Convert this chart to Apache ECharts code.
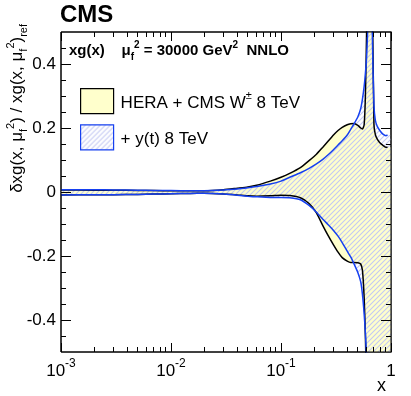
<!DOCTYPE html>
<html lang="en">
<head>
<meta charset="UTF-8">
<title>CMS xg(x) uncertainty</title>
<script src="https://cdn.jsdelivr.net/npm/echarts@6/dist/echarts.min.js"></script>
<style>html,body{margin:0;padding:0;background:#fff}</style>
</head>
<body>
<div id="chart" style="width:411px;height:396px;"></div>
<script>
// x grid shared by both bands
var xVals = [0.001, 0.002, 0.003, 0.005, 0.007, 0.01, 0.015, 0.02, 0.03, 0.04,
	0.05, 0.06, 0.08, 0.1, 0.12, 0.15, 0.18, 0.21, 0.24, 0.27,
	0.3, 0.33, 0.36, 0.4, 0.43, 0.46, 0.5, 0.53, 0.55, 0.57,
	0.585, 0.6, 0.62, 0.65, 0.68, 0.7, 0.72, 0.75, 0.8, 0.85,
	0.9, 0.93, 1.0];

// HERA + CMS W 8 TeV (black band)
var heraUp = [0.006, 0.0058, 0.0055, 0.005, 0.0045, 0.004, 0.004, 0.004, 0.007, 0.012,
	0.016, 0.021, 0.034, 0.046, 0.058, 0.076, 0.098, 0.118, 0.14, 0.16,
	0.178, 0.192, 0.202, 0.21, 0.213, 0.214, 0.208, 0.2, 0.197, 0.21,
	0.3, 0.5, 0.9, 0.9, 0.55, 0.21, 0.18, 0.165, 0.152, 0.145,
	0.14, 0.14, 0.14];
var heraDown = [-0.009, -0.0088, -0.0085, -0.0075, -0.0065, -0.0055, -0.0045, -0.004, -0.006, -0.009,
	-0.012, -0.013, -0.012, -0.01, -0.011, -0.018, -0.036, -0.065, -0.105, -0.138,
	-0.165, -0.188, -0.205, -0.216, -0.22, -0.22, -0.221, -0.225, -0.245, -0.33,
	-0.45, -0.62, -0.9, -0.9, -0.9, -0.9, -0.9, -0.9, -0.9, -0.9,
	-0.9, -0.9, -0.9];

// + y(t) 8 TeV (blue hatched band)
var ytUp = [0.007, 0.0068, 0.0065, 0.0055, 0.005, 0.0045, 0.004, 0.004, 0.006, 0.009,
	0.013, 0.017, 0.025, 0.034, 0.046, 0.06, 0.074, 0.088, 0.102, 0.117,
	0.132, 0.147, 0.16, 0.178, 0.196, 0.212, 0.235, 0.26, 0.29, 0.33,
	0.37, 0.42, 0.55, 0.9, 0.45, 0.27, 0.225, 0.205, 0.19, 0.18,
	0.176, 0.178, 0.178];
var ytDown = [-0.009, -0.0088, -0.0085, -0.0075, -0.0065, -0.0055, -0.0045, -0.004, -0.006, -0.01,
	-0.013, -0.015, -0.017, -0.017, -0.018, -0.024, -0.042, -0.063, -0.085, -0.103,
	-0.12, -0.138, -0.158, -0.185, -0.203, -0.224, -0.252, -0.28, -0.32, -0.38,
	-0.44, -0.52, -0.7, -0.9, -0.9, -0.9, -0.9, -0.9, -0.9, -0.9,
	-0.9, -0.9, -0.9];

var legendNames = ['HERA + CMS W\u00b1 8 TeV', '+ y(t) 8 TeV'];

var xMajor = [0.001, 0.01, 0.1, 1];
var xMinor = [0.002, 0.003, 0.004, 0.005, 0.006, 0.007, 0.008, 0.009,
	0.02, 0.03, 0.04, 0.05, 0.06, 0.07, 0.08, 0.09,
	0.2, 0.3, 0.4, 0.5, 0.6, 0.7, 0.8, 0.9];
var yMajor = [-0.4, -0.2, 0, 0.2, 0.4];
var yMinor = [-0.45, -0.35, -0.3, -0.25, -0.15, -0.1, -0.05,
	0.05, 0.1, 0.15, 0.25, 0.3, 0.35, 0.45];

var FONT = 'Liberation Sans';
var yellow = '#ffffcc';
var blue = '#1640f0';

function hatch() {
	var c = document.createElement('canvas');
	c.width = 5; c.height = 5;
	var g = c.getContext('2d');
	g.strokeStyle = '#c4c9f2';
	g.lineWidth = 1.1;
	g.beginPath();
	g.moveTo(0, 5); g.lineTo(5, 0);
	g.moveTo(-1, 1); g.lineTo(1, -1);
	g.moveTo(4, 6); g.lineTo(6, 4);
	g.stroke();
	return c;
}
var hatchFill = {image: hatch(), repeat: 'repeat'};

function snap(v) { return Math.floor(v) + 0.5; }

function band(name, up, down, fill, z) {
	return {
		type: 'custom',
		name: name,
		clip: true,
		z: z,
		silent: true,
		data: xVals.map(function (x, i) { return [x, down[i], up[i]]; }),
		encode: {x: 0, y: [1, 2]},
		renderItem: function (params, api) {
			if (params.dataIndex !== 0) return null;
			var pts = [];
			for (var i = 0; i < xVals.length; i++) pts.push(api.coord([xVals[i], up[i]]));
			for (var j = xVals.length - 1; j >= 0; j--) pts.push(api.coord([xVals[j], down[j]]));
			return {type: 'polygon', shape: {points: pts}, style: {fill: fill, stroke: null}};
		}
	};
}

function edge(arr, color, z) {
	return {
		type: 'line',
		data: xVals.slice(0, -1).map(function (x, i) { return [x, arr[i]]; }),
		showSymbol: false,
		smooth: 0.2,
		z: z,
		silent: true,
		lineStyle: {color: color, width: 1.5}
	};
}

function tickList(major, minor, lMajor, lMinor) {
	return major.map(function (v) { return [v, lMajor]; })
		.concat(minor.map(function (v) { return [v, lMinor]; }))
		.sort(function (a, b) { return a[0] - b[0]; });
}
var xTicks = tickList(xMajor, xMinor, 9, 5);
var yTicks = tickList(yMajor, yMinor, 10, 5);

// ROOT style frame ticks: one polyline per side running along the frame edge
var tickSeries = {
	type: 'custom',
	silent: true,
	z: 10,
	data: [[0.001, 0]],
	encode: {x: 0, y: 1},
	renderItem: function (params, api) {
		var r = params.coordSys;
		var L = r.x, R = r.x + r.width, T = r.y, B = r.y + r.height;
		var bottom = [[L, B]], top = [[L, T]], left = [[L, B]], right = [[R, B]];
		xTicks.forEach(function (t) {
			var px = snap(api.coord([t[0], 0])[0]);
			bottom.push([px, B], [px, B - t[1]], [px, B]);
			top.push([px, T], [px, T + t[1]], [px, T]);
		});
		yTicks.forEach(function (t) {
			var py = snap(api.coord([0.001, t[0]])[1]);
			left.push([L, py], [L + t[1], py], [L, py]);
			right.push([R, py], [R - t[1], py], [R, py]);
		});
		bottom.push([R, B]); top.push([R, T]); left.push([L, T]); right.push([R, T]);
		var st = function () { return {stroke: '#000', lineWidth: 1, fill: null}; };
		return {
			type: 'group',
			children: [bottom, top, left, right].map(function (pts) {
				return {type: 'polyline', shape: {points: pts}, style: st()};
			})
		};
	}
};

var option = {
	animation: false,
	grid: {left: 61, right: 20, top: 32, bottom: 44, show: true, borderColor: '#000', borderWidth: 1, backgroundColor: 'transparent'},
	title: {
		text: 'CMS', left: 60, top: 3, padding: 0,
		textStyle: {fontFamily: FONT, fontSize: 24, fontWeight: 'bold', color: '#000'}
	},
	legend: {
		orient: 'vertical', left: 80, top: 88, padding: 0,
		itemWidth: 33, itemHeight: 25, itemGap: 10, icon: 'rect',
		selectedMode: false,
		data: [
			{name: legendNames[0], itemStyle: {color: yellow, borderColor: '#000', borderWidth: 1.2}},
			{name: legendNames[1], itemStyle: {color: hatchFill, borderColor: blue, borderWidth: 1.2}}
		],
		formatter: function (n) {
			return n === legendNames[0] ? '{t|HERA + CMS W}{s|\u00b1}{t| 8 TeV}' : '{t|' + n + '}';
		},
		textStyle: {
			color: '#000', padding: [0, 0, 0, 2],
			rich: {
				t: {fontFamily: FONT, fontSize: 17, lineHeight: 22, verticalAlign: 'bottom', color: '#000'},
				s: {fontFamily: FONT, fontSize: 11, lineHeight: 14, verticalAlign: 'top', color: '#000'}
			}
		}
	},
	graphic: [
		{
			type: 'text', left: 69, top: 40, z: 100,
			style: {
				text: '{b|xg(x)}{b|    \u03bc}{d|f}{u|2}{b| = 30000 GeV}{u|2}{b|  NNLO}',
				rich: {
					b: {fontFamily: FONT, fontSize: 15, fontWeight: 'bold', lineHeight: 22, verticalAlign: 'middle', fill: '#000'},
					u: {fontFamily: FONT, fontSize: 10, fontWeight: 'bold', lineHeight: 13, verticalAlign: 'top', fill: '#000'},
					d: {fontFamily: FONT, fontSize: 10, fontWeight: 'bold', lineHeight: 10, verticalAlign: 'bottom', fill: '#000'}
				}
			}
		},
		{
			type: 'text', x: 17, y: 24, rotation: Math.PI / 2, z: 100,
			style: {
				text: '{a|\u03b4xg(x, \u03bc}{d|f}{u|2}{a|) / xg(x, \u03bc}{d|f}{u|2}{a|)}{d|ref}',
				align: 'right', verticalAlign: 'middle',
				rich: {
					a: {fontFamily: FONT, fontSize: 17, lineHeight: 24, verticalAlign: 'middle', fill: '#000'},
					u: {fontFamily: FONT, fontSize: 11, lineHeight: 13, verticalAlign: 'top', fill: '#000'},
					d: {fontFamily: FONT, fontSize: 11, lineHeight: 11, verticalAlign: 'bottom', fill: '#000'}
				}
			}
		},
		{
			type: 'text', x: 377, y: 386, z: 100,
			style: {text: 'x', fontFamily: FONT, fontSize: 18, fill: '#000', align: 'left', verticalAlign: 'middle'}
		}
	],
	xAxis: {
		type: 'log', logBase: 10, min: 0.001, max: 1,
		axisLine: {show: false, onZero: false},
		axisTick: {show: false},
		axisLabel: {
			customValues: xMajor, margin: 6, color: '#000',
			formatter: function (v) {
				if (v >= 1) return '{b|1}';
				return '{b|10}{s|' + Math.round(Math.log10(v)) + '}';
			},
			rich: {
				b: {fontFamily: FONT, fontSize: 17, lineHeight: 22, verticalAlign: 'bottom', color: '#000'},
				s: {fontFamily: FONT, fontSize: 12, lineHeight: 13, verticalAlign: 'top', color: '#000'}
			}
		},
		splitLine: {show: false}
	},
	yAxis: {
		type: 'value', min: -0.5, max: 0.5,
		axisLine: {show: false, onZero: false},
		axisTick: {show: false},
		axisLabel: {
			customValues: yMajor, margin: 5, color: '#000',
			fontFamily: FONT, fontSize: 17,
			formatter: function (v) { return v === 0 ? '0' : String(Math.round(v * 10) / 10); }
		},
		splitLine: {show: false}
	},
	series: [
		band(legendNames[0], heraUp, heraDown, yellow, 1),
		band(legendNames[1], ytUp, ytDown, hatchFill, 2),
		edge(heraUp, '#000', 3),
		edge(heraDown, '#000', 3),
		edge(ytUp, blue, 4),
		edge(ytDown, blue, 4),
		tickSeries
	]
};

var myChart = echarts.init(document.getElementById('chart'));
myChart.setOption(option);
</script>
</body>
</html>
